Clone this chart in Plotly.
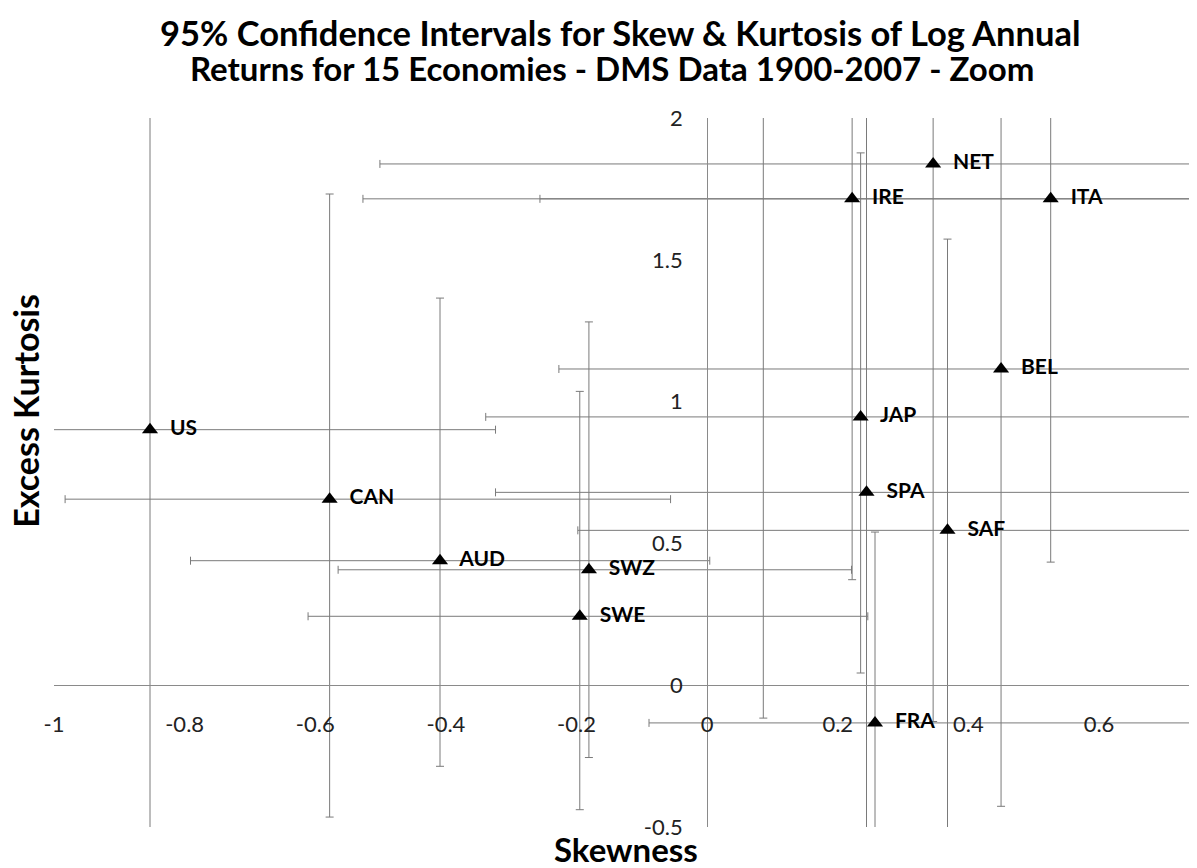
import plotly.graph_objects as go

# ---- data ----
economies = ["US", "CAN", "AUD", "SWZ", "SWE", "FRA", "IRE", "JAP", "SPA",
             "NET", "SAF", "BEL", "ITA", "UK"]
skewness = [-0.853, -0.578, -0.409, -0.181, -0.195, 0.257, 0.222, 0.235, 0.244,
            0.346, 0.368, 0.450, 0.526, 0.086]
kurtosis = [0.901, 0.656, 0.439, 0.407, 0.243, -0.133, 1.715, 0.946, 0.680,
            1.838, 0.546, 1.115, 1.715, 2.40]
skew_lower = [-1.30, -0.983, -0.791, -0.565, -0.611, -0.089, -0.527, -0.339, -0.324,
              -0.501, -0.198, -0.227, -0.256, -0.40]
skew_upper = [-0.324, -0.056, 0.004, 0.221, 0.246, 0.90, 0.95, 0.95, 0.95,
              1.05, 1.00, 1.10, 1.20, 0.55]
kurt_lower = [-0.70, -0.465, -0.286, -0.255, -0.439, -0.75, 0.372, 0.043, -0.60,
              -0.128, -0.62, -0.427, 0.434, -0.116]
kurt_upper = [2.60, 1.732, 1.365, 1.281, 1.036, 0.540, 2.70, 1.877, 2.10,
              2.90, 1.573, 2.40, 2.80, 4.20]

x_tickvals = [-1, -0.8, -0.6, -0.4, -0.2, 0, 0.2, 0.4, 0.6]
x_ticktext = ["-1", "-0.8", "-0.6", "-0.4", "-0.2", "0", "0.2", "0.4", "0.6"]
y_tickvals = [-0.5, 0, 0.5, 1, 1.5, 2]
y_ticktext = ["-0.5", "0", "0.5", "1", "1.5", "2"]

title_line1 = "95% Confidence Intervals for Skew & Kurtosis of Log Annual"
title_line2 = "Returns for 15 Economies - DMS Data 1900-2007 - Zoom"
x_title = "Skewness"
y_title = "Excess Kurtosis"

# ---- derived error sizes ----
ex_plus = [u - v for u, v in zip(skew_upper, skewness)]
ex_minus = [v - l for l, v in zip(skew_lower, skewness)]
ey_plus = [u - v for u, v in zip(kurt_upper, kurtosis)]
ey_minus = [v - l for l, v in zip(kurt_lower, kurtosis)]
labels = ["\u00a0\u00a0" + e for e in economies]

FONT = "Lato, 'Open Sans', sans-serif"
AXIS_COLOR = "#8a8a8a"
ERR_COLOR = "#7a7a7a"

x_range = [-1, 0.75]
y_range = [-0.5, 2]

fig = go.Figure()
fig.add_trace(go.Scatter(
    x=skewness, y=kurtosis, mode="markers+text",
    text=labels, textposition="middle right",
    textfont=dict(family=FONT, size=21, color="black", weight="bold"),
    marker=dict(symbol="triangle-up", size=14, color="black"),
    error_x=dict(type="data", symmetric=False, array=ex_plus, arrayminus=ex_minus,
                 color=ERR_COLOR, thickness=1, width=4),
    error_y=dict(type="data", symmetric=False, array=ey_plus, arrayminus=ey_minus,
                 color=ERR_COLOR, thickness=1, width=4),
    cliponaxis=True, hoverinfo="x+y+text",
))

# axes cross at zero
x_pos = (0 - y_range[0]) / (y_range[1] - y_range[0])
y_pos = (0 - x_range[0]) / (x_range[1] - x_range[0])

fig.update_layout(
    width=1189, height=860,
    margin=dict(l=46, r=0, t=110, b=41),
    plot_bgcolor="white", paper_bgcolor="white",
    showlegend=False,
    font=dict(family=FONT, color="black"),
    xaxis=dict(range=x_range, anchor="free", position=x_pos,
               showline=True, linecolor=AXIS_COLOR, linewidth=1,
               showgrid=False, zeroline=False, ticks="",
               tickvals=x_tickvals, ticktext=x_ticktext,
               ticklabelstandoff=19,
               tickfont=dict(family=FONT, size=22, color="#222")),
    yaxis=dict(range=y_range, anchor="free", position=y_pos,
               showline=True, linecolor=AXIS_COLOR, linewidth=1,
               showgrid=False, zeroline=False, ticks="",
               tickvals=y_tickvals, ticktext=y_ticktext,
               ticklabelstandoff=20,
               tickfont=dict(family=FONT, size=22, color="#222")),
    annotations=[
        dict(text=title_line1, xref="paper", yref="paper", x=0.495, y=1.121,
             xanchor="center", yanchor="middle", showarrow=False,
             font=dict(family=FONT, size=34.5, color="black", weight="bold")),
        dict(text=title_line2, xref="paper", yref="paper", x=0.488, y=1.071,
             xanchor="center", yanchor="middle", showarrow=False,
             font=dict(family=FONT, size=33, color="black", weight="bold")),
        dict(text=x_title, xref="paper", yref="paper", x=0.5, y=-0.031,
             xanchor="center", yanchor="middle", showarrow=False,
             font=dict(family=FONT, size=33, color="black", weight="bold")),
        dict(text=y_title, xref="paper", yref="paper", x=-0.0245, y=0.587,
             xanchor="center", yanchor="middle", showarrow=False, textangle=-90,
             font=dict(family=FONT, size=34, color="black", weight="bold")),
    ],
)

fig.write_html("out.html")
